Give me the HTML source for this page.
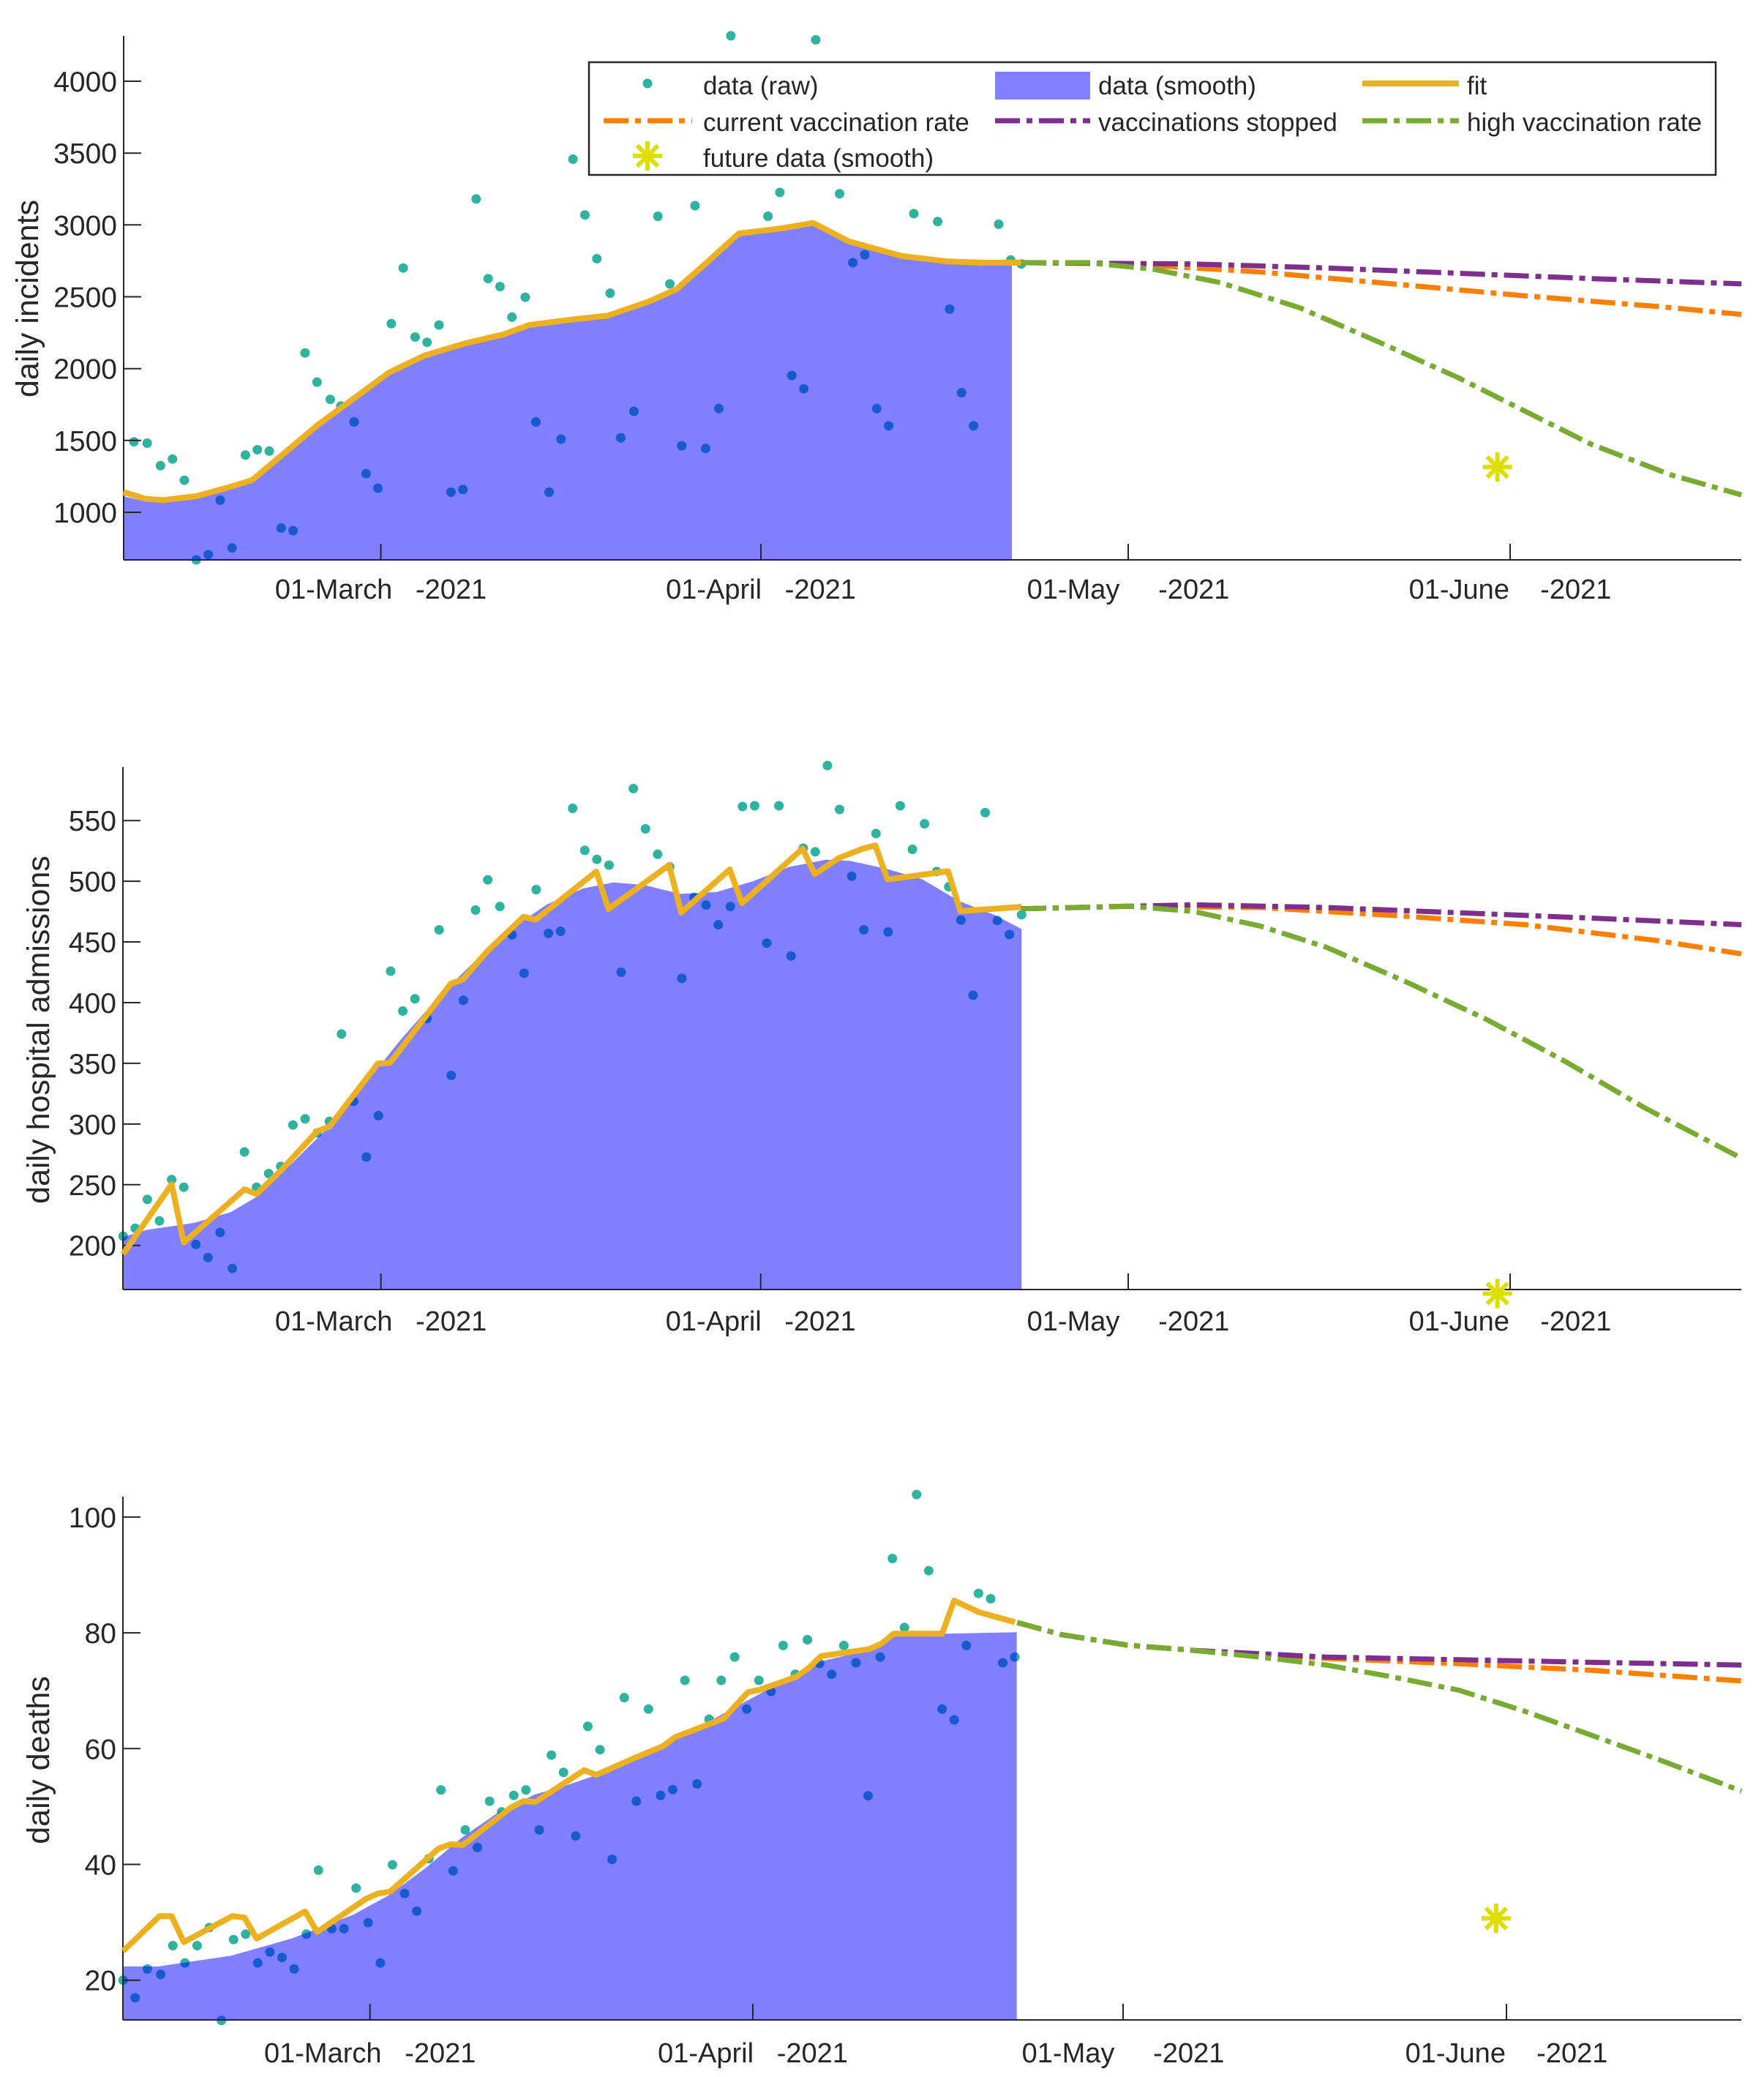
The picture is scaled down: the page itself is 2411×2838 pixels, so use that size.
<!DOCTYPE html>
<html><head><meta charset="utf-8"><style>
html,body{margin:0;padding:0;background:#fff;}
svg{display:block;}
text{font-family:"Liberation Sans",sans-serif;fill:#262626;}
</style></head><body>
<svg id="s" xmlns="http://www.w3.org/2000/svg" width="2411" height="2838" viewBox="0 0 2411 2838"></svg>
<script>
const S=1.8128;
const svg=document.getElementById('s');
let out='';
const m=p=>[p[0]*S,p[1]*S];
const z1=p=>[p[0]/1.12,p[1]/1.846];
const z2=p=>[150+p[0]/1.206,1020+p[1]/2.036];
const z3=p=>[150+p[0]/1.206,2020+p[1]/2.036];
const pts=(a,f)=>a.map(p=>{const q=f(p);return q[0].toFixed(1)+','+q[1].toFixed(1)}).join(' ');
function dots(a,f){a.forEach(p=>{const q=f(p);out+=`<circle cx="${q[0].toFixed(1)}" cy="${q[1].toFixed(1)}" r="6.5" fill="#2db3a0"/>`;});}
function fill(top,f,xend,bottom){const t=top.map(f);const x0=t[0][0];let s=`M${x0},${bottom} `;t.forEach(q=>s+=`L${q[0].toFixed(1)},${q[1].toFixed(1)} `);s+=`L${xend},${t[t.length-1][1].toFixed(1)} L${xend},${bottom} Z`;out+=`<path d="${s}" fill="rgba(0,0,255,0.5)"/>`;}
function line(a,f,col,w,dash){out+=`<polyline points="${pts(a,f)}" fill="none" stroke="${col}" stroke-width="${w}" stroke-linejoin="round" ${dash?'stroke-dasharray="'+dash+'"':''}/>`;}
function star(x,y,r){let s='';for(let i=0;i<4;i++){const a=i*Math.PI/4;s+=`<line x1="${x-r*Math.sin(a)}" y1="${y-r*Math.cos(a)}" x2="${x+r*Math.sin(a)}" y2="${y+r*Math.cos(a)}" stroke="#dede00" stroke-width="6"/>`;}out+=s;}
function axes(L,R,T,B,yt,xt,ylab,lx,ly,xlaby){
 out+=`<line x1="${L}" y1="${T}" x2="${L}" y2="${B}" stroke="#262626" stroke-width="2"/>`;
 out+=`<line x1="${L}" y1="${B}" x2="${R}" y2="${B}" stroke="#262626" stroke-width="2"/>`;
 yt.forEach(t=>{out+=`<line x1="${L}" y1="${t[1]}" x2="${L+24}" y2="${t[1]}" stroke="#262626" stroke-width="2"/><text x="${L-9}" y="${t[1]+14}" font-size="39" text-anchor="end">${t[0]}</text>`;});
 const names=['01-March   -2021','01-April   -2021','01-May     -2021','01-June    -2021'];
 xt.forEach((x,i)=>{out+=`<line x1="${x}" y1="${B}" x2="${x}" y2="${B-22}" stroke="#262626" stroke-width="2"/><text x="${x}" y="${xlaby}" font-size="38" text-anchor="middle" xml:space="preserve">${names[i]}</text>`;});
 out+=`<text x="${lx}" y="${ly}" font-size="43" text-anchor="middle" transform="rotate(-90 ${lx} ${ly})">${ylab}</text>`;
}
const DASH='34 9 8 9';
/* ---------- Panel 1 ---------- */
const p1=[[101,333],[111,334],[121,351],[130,346],[139,362],[148,422],[157,418],[166,377],[175,413],[185,343],[194,339],[203,340],[212,398],[221,400],[230,266],[239,288],[249,301],[257,306],[267,318],[276,357],[285,368],[295,244],[304,202],[313,254],[322,258],[331,245],[340,371],[349,369],[359,150],[368,210],[377,216],[386,239],[396,224],[404,318],[414,371],[423,331],[432,120],[441,162],[450,195],[460,221],[468,330],[478,310],[496,163],[505,214],[514,336],[524,155],[532,338],[542,308],[551,27],[579,163],[588,145],[597,283],[606,293],[615,30],[633,146],[643,198],[652,192],[661,308],[670,321],[689,161],[707,167],[716,233],[725,296],[734,321],[753,169],[762,196],[770,199]];
dots(p1,m);
const f1=[[93,374],[110,378],[125,378],[150,375],[170,370],[190,363],[240,320],[293,283],[320,270],[350,260],[380,254],[399,247],[430,242],[458,239],[490,228],[510,219],[535,198],[557,178],[590,173],[613,170],[640,183],[680,194],[714,199],[762,199]];
fill(f1,m,1383,765);
axes(169,2380,49,765,[[1000,700],[1500,601.8],[2000,503.7],[2500,405.5],[3000,307.3],[3500,209.2],[4000,111]],[520.5,1040,1542,2064],'daily incidents',52,408,818);
const fit1=[[93,371],[110,376],[123,377],[148,374],[170,368],[190,362],[240,320],[293,281],[320,268],[350,259],[380,252],[399,245],[430,241],[458,238],[490,227],[510,218],[535,196],[557,176],[590,172],[613,168],[640,182],[680,193],[714,197],[740,198],[770,198]];
line(fit1,m,'#EDB120',8);
line([[770,198],[850,199],[950,205],[1050,214],[1150,223],[1250,231],[1313,237]],m,'#FF7F00',7,DASH);
line([[770,198],[900,199],[1000,202],[1100,206],[1200,210],[1313,214]],m,'#7E2F8E',7,DASH);
line([[770,198],[820,198],[870,203],[920,213],[980,232],[1040,258],[1100,285],[1150,310],[1200,335],[1260,358],[1313,373]],m,'#77AC30',7,DASH);
star(1129*S,352*S,20);
/* legend */
out+=`<rect x="805" y="85" width="1540" height="154" fill="#fff" stroke="#262626" stroke-width="2.5"/>`;
out+=`<circle cx="885" cy="114" r="6.5" fill="#2db3a0"/><text x="961" y="129" font-size="35">data (raw)</text>`;
out+=`<rect x="1360" y="98" width="130" height="38" fill="#8080ff"/><text x="1501" y="129" font-size="35">data (smooth)</text>`;
out+=`<line x1="1862" y1="114" x2="1994" y2="114" stroke="#EDB120" stroke-width="8"/><text x="2005" y="129" font-size="35">fit</text>`;
out+=`<line x1="825" y1="165" x2="946" y2="165" stroke="#FF7F00" stroke-width="7" stroke-dasharray="${DASH}"/><text x="961" y="179" font-size="35">current vaccination rate</text>`;
out+=`<line x1="1360" y1="165" x2="1490" y2="165" stroke="#7E2F8E" stroke-width="7" stroke-dasharray="${DASH}"/><text x="1501" y="179" font-size="35">vaccinations stopped</text>`;
out+=`<line x1="1862" y1="165" x2="1994" y2="165" stroke="#77AC30" stroke-width="7" stroke-dasharray="${DASH}"/><text x="2005" y="179" font-size="35">high vaccination rate</text>`;
star(885,213,20);out+=`<text x="961" y="228" font-size="35">future data (smooth)</text>`;
/* ---------- Panel 2 ---------- */
const p2=[[22,1362],[42,1340],[62,1260],[82,1320],[102,1205],[122,1226],[142,1385],[162,1422],[182,1352],[202,1452],[222,1128],[242,1226],[262,1188],[282,1168],[302,1053],[322,1036],[342,1075],[362,1043],[382,800],[402,987],[423,1142],[443,1027],[463,625],[483,736],[503,702],[523,757],[543,510],[563,915],[583,706],[603,455],[623,371],[643,445],[663,524],[683,631],[703,398],[723,520],[743,514],[763,172],[783,289],[803,314],[823,330],[843,628],[863,117],[883,229],[903,300],[923,335],[943,645],[963,420],[983,441],[1003,496],[1023,445],[1043,167],[1063,165],[1083,547],[1103,165],[1123,583],[1143,283],[1163,293],[1183,53],[1203,175],[1223,361],[1243,510],[1263,242],[1283,516],[1303,165],[1323,286],[1343,215],[1363,348],[1383,390],[1403,483],[1423,692],[1443,184],[1463,484],[1483,523],[1503,468]];
dots(p2,z2);
const ft2=[[22,1365],[60,1345],[140,1325],[200,1295],[240,1255],[300,1160],[360,1060],[420,940],[480,815],[540,700],[600,600],[660,510],[720,440],[780,395],[830,378],[880,385],[940,410],[1000,405],[1060,375],[1120,335],[1180,315],[1220,318],[1280,340],[1340,370],[1400,430],[1460,470],[1503,508]];
fill(ft2,z2,150+1503/1.206,1762);
const yt2=[];for(let v=200;v<=550;v+=50)yt2.push([v,1701.7-(v-200)/50*82.93]);
axes(168,2380,1048,1762,yt2,[520.6,1039.7,1542,2064],'daily hospital admissions',67,1407,1818);
line([[22,1412],[102,1218],[122,1380],[222,1232],[242,1245],[282,1180],[342,1070],[362,1058],[442,882],[462,880],[562,660],[582,648],[622,570],[682,474],[702,482],[802,348],[822,452],[922,330],[942,462],[1022,342],[1042,436],[1142,284],[1162,355],[1202,310],[1240,285],[1262,275],[1282,370],[1382,347],[1402,458],[1503,446]],z2,'#EDB120',8);
line([[770,685],[850,683],[950,684],[1050,690],[1150,697],[1250,709],[1313,719]],m,'#FF7F00',7,DASH);
line([[770,685],[900,682],[1000,684],[1100,688],[1200,692],[1313,697]],m,'#7E2F8E',7,DASH);
line([[770,685],[850,683],[900,687],[950,698],[1000,714],[1060,740],[1120,768],[1180,800],[1240,835],[1313,873]],m,'#77AC30',7,DASH);
star(1129*S,975*S,20);
/* ---------- Panel 3 ---------- */
const p3=[[22,1396],[42,1445],[62,1365],[84,1380],[104,1300],[124,1348],[144,1300],[164,1250],[184,1508],[204,1283],[224,1268],[244,1348],[264,1318],[284,1333],[304,1365],[324,1268],[344,1090],[366,1253],[386,1253],[406,1140],[426,1236],[446,1348],[466,1075],[486,1155],[506,1204],[526,1058],[546,867],[566,1092],[586,978],[606,1027],[626,898],[646,928],[666,882],[686,867],[708,978],[728,770],[748,818],[768,995],[788,690],[808,755],[828,1060],[848,610],[868,898],[888,642],[908,882],[928,866],[948,562],[968,850],[988,670],[1008,562],[1030,497],[1050,642],[1070,562],[1090,593],[1110,465],[1130,545],[1150,449],[1170,515],[1190,545],[1210,465],[1230,513],[1250,883],[1270,497],[1290,223],[1310,415],[1330,45],[1350,257],[1372,642],[1392,672],[1412,465],[1432,320],[1452,335],[1472,513],[1492,497]];
dots(p3,z3);
const ft3=[[22,1358],[80,1358],[200,1328],[300,1280],[400,1215],[460,1160],[520,1085],[580,1000],[640,930],[700,880],[760,850],[820,815],[880,775],[940,715],[1000,665],[1060,610],[1120,555],[1170,510],[1250,478],[1300,435],[1495,428]];
fill(ft3,z3,150+1495/1.206,2760);
const yt3=[];for(let v=20;v<=100;v+=20)yt3.push([v,2705.7-(v-20)/20*158.2]);
axes(168,2380,2045,2760,yt3,[505.7,1029,1535,2059],'daily deaths',67,2405,2818);
line([[22,1315],[82,1218],[102,1218],[122,1290],[202,1218],[222,1222],[242,1280],[322,1205],[342,1262],[422,1170],[442,1155],[462,1150],[542,1030],[562,1018],[582,1020],[662,915],[682,898],[702,900],[782,812],[802,825],[862,780],[912,745],[932,720],[1012,668],[1052,595],[1072,588],[1132,552],[1152,528],[1172,495],[1252,475],[1272,460],[1292,432],[1372,432],[1392,340],[1432,372],[1492,400]],z3,'#EDB120',8);
line([[767,1223],[800,1232],[850,1240],[900,1244],[1000,1250],[1100,1254],[1200,1259],[1313,1267]],m,'#FF7F00',7,DASH);
line([[767,1223],[800,1232],[850,1240],[900,1244],[1000,1249],[1100,1251],[1200,1253],[1313,1255]],m,'#7E2F8E',7,DASH);
line([[767,1223],[800,1232],[850,1240],[900,1244],[950,1249],[1000,1255],[1050,1264],[1100,1274],[1150,1290],[1200,1308],[1250,1326],[1313,1350]],m,'#77AC30',7,DASH);
star(1128*S,1446*S,20);
svg.innerHTML=out;
</script>
</body></html>
